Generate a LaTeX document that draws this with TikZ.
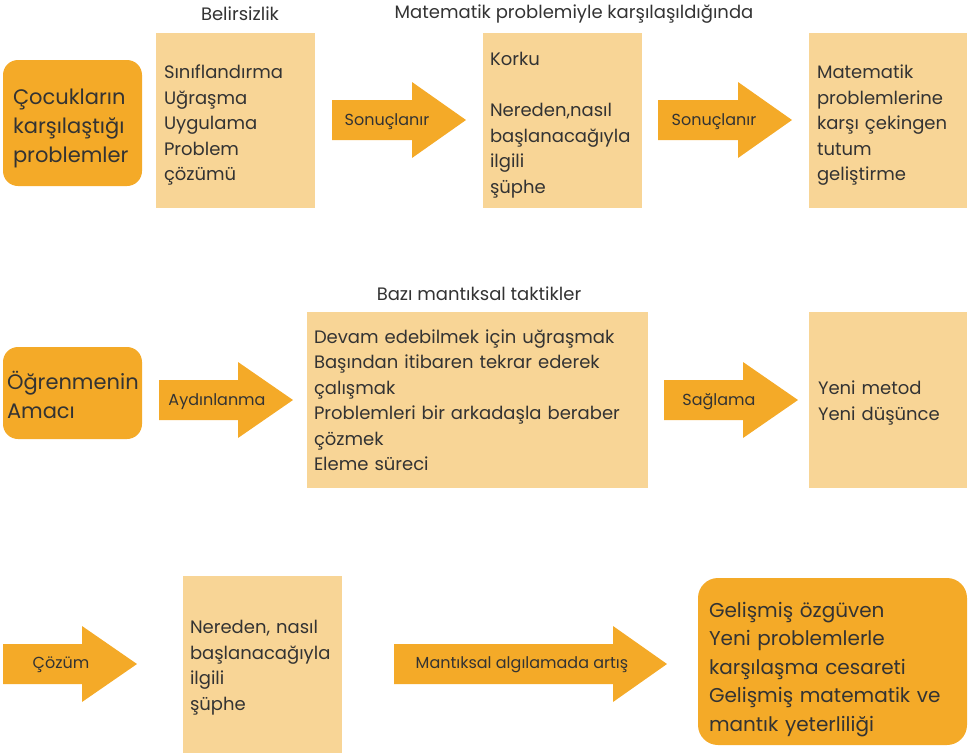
\documentclass[tikz,border=0pt]{standalone}
\usepackage{fontspec}
\setmainfont{Poppins}
\definecolor{koyu}{HTML}{F4AA28}
\definecolor{acik}{HTML}{F8D596}
\definecolor{yazi}{HTML}{333333}
\tikzset{
  sonuc/.style={rounded corners=15pt, fill=koyu, text=yazi, align=left, inner ysep=0pt,
    font=\fontsize{21}{29}\selectfont},
  kutu/.style={fill=acik, text=yazi, align=left, inner ysep=0pt,
    font=\fontsize{18}{25.5}\selectfont},
  ok/.style={fill=koyu},
  okyazi/.style={text=yazi, inner sep=0pt, yshift=-2pt, font=\fontsize{16}{18}\selectfont},
  baslik/.style={text=yazi, inner sep=0pt, font=\fontsize{18}{20}\selectfont}
}
\begin{document}
\begin{tikzpicture}[x=1pt, y=-1pt]
    \useasboundingbox (0,0) rectangle (972,753);

    % first row
    \node (b1) at (240,14) [baslik] {Belirsizlik};
    \node (b2) at (574,14) [baslik] {Matematik problemiyle karşılaşıldığında};

    \node (s1) at (72.5,123) [sonuc, minimum height=126, text width=119, inner xsep=10]
      {\rule{0pt}{26pt}Çocukların\\karşılaştığı\\problemler};

    \node (k1) at (235.5,120) [kutu, minimum height=175, text width=143, inner xsep=8]
      {\rule{0pt}{24pt}Sınıflandırma\\Uğraşma\\Uygulama\\Problem\\çözümü};

    \fill[ok] (332,100) -- ++(80,0) -- ++(0,-18) -- ++(54,38) -- ++(-54,38) -- ++(0,-18) -- ++(-80,0) -- cycle;
    \node (o1) at (387,120) [okyazi] {Sonuçlanır};

    \node (k2) at (562.5,120) [kutu, minimum height=175, text width=145, inner xsep=7]
      {\rule{0pt}{24pt}Korku\\[25.5pt]Nereden,nasıl\\başlanacağıyla\\ilgili\\şüphe};

    \fill[ok] (658,100) -- ++(80,0) -- ++(0,-18) -- ++(54,38) -- ++(-54,38) -- ++(0,-18) -- ++(-80,0) -- cycle;
    \node (o2) at (714,120) [okyazi] {Sonuçlanır};

    \node (k3) at (888,120) [kutu, minimum height=175, text width=142, inner xsep=8]
      {\rule{0pt}{24pt}Matematik\\problemlerine\\karşı çekingen\\tutum\\geliştirme};

    % second row
    \node (b3) at (479,294) [baslik] {Bazı mantıksal taktikler};

    \node (s2) at (72.5,393) [sonuc, minimum height=92, text width=131, inner xsep=4]
      {\rule{0pt}{22pt}Öğrenmenin\\Amacı};

    \fill[ok] (159,380) -- ++(79,0) -- ++(0,-18) -- ++(55,38) -- ++(-55,38) -- ++(0,-18) -- ++(-79,0) -- cycle;
    \node (o3) at (217,400) [okyazi] {Aydınlanma};

    \node (k4) at (477.5,400) [kutu, minimum height=176, text width=327, inner xsep=7]
      {Devam edebilmek için uğraşmak\\Başından itibaren tekrar ederek\\çalışmak\\Problemleri bir arkadaşla beraber\\çözmek\\Eleme süreci};

    \fill[ok] (664,380) -- ++(79,0) -- ++(0,-18) -- ++(55,38) -- ++(-55,38) -- ++(0,-18) -- ++(-79,0) -- cycle;
    \node (o4) at (719,400) [okyazi] {Sağlama};

    \node (k5) at (888,400) [kutu, minimum height=176, text width=140, inner xsep=9]
      {\rule{0pt}{20pt}Yeni metod\\Yeni düşünce};

    % third row
    \fill[ok] (3,644) -- ++(79,0) -- ++(0,-18) -- ++(55,38) -- ++(-55,38) -- ++(0,-18) -- ++(-79,0) -- cycle;
    \node (o5) at (61,663) [okyazi] {Çözüm};

    \node (k6) at (262.5,664.5) [kutu, minimum height=177, text width=145, inner xsep=7]
      {\rule{0pt}{20pt}Nereden, nasıl\\başlanacağıyla\\ilgili\\şüphe};

    \fill[ok] (394,644) -- ++(219,0) -- ++(0,-18) -- ++(54,38) -- ++(-54,38) -- ++(0,-18) -- ++(-219,0) -- cycle;
    \node (o6) at (522,663) [okyazi] {Mantıksal algılamada artış};

    \node (s3) at (832.5,661.5) [sonuc, rounded corners=20pt, minimum height=167, text width=247, inner xsep=11,
      font=\fontsize{20}{28.5}\selectfont]
      {\rule{0pt}{31pt}Gelişmiş özgüven\\Yeni problemlerle\\karşılaşma cesareti\\Gelişmiş matematik ve\\mantık yeterliliği};
\end{tikzpicture}
\end{document}
